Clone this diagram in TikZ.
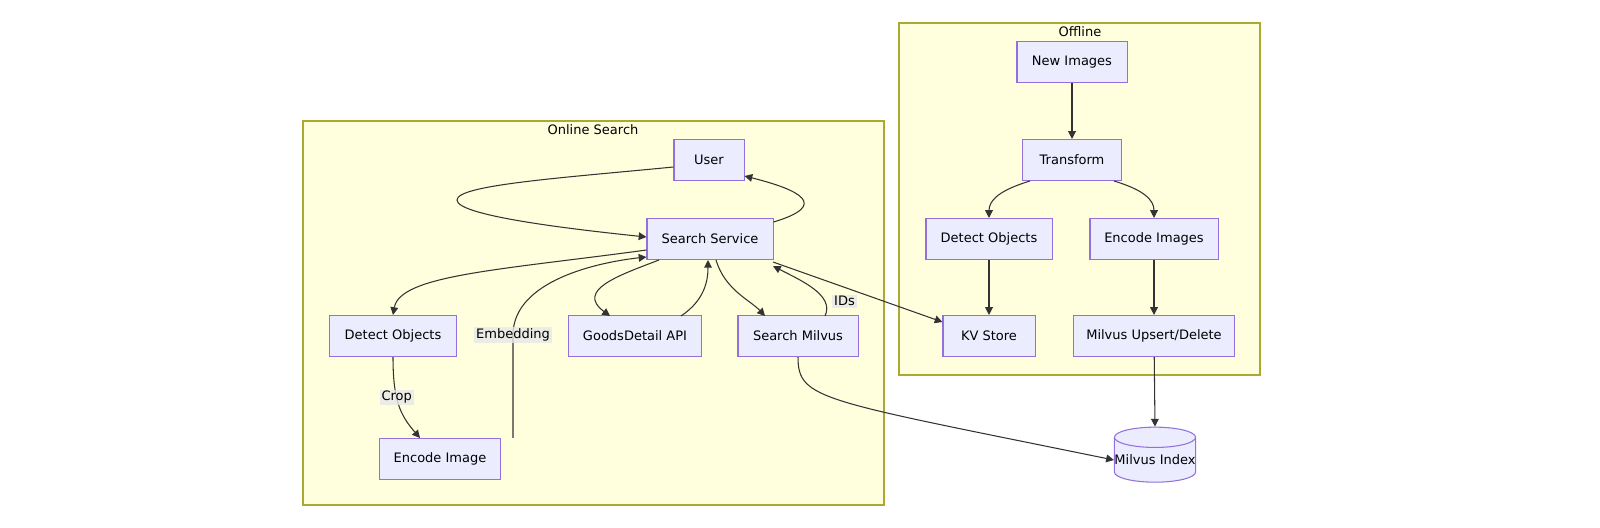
\documentclass[tikz,border=0pt]{standalone}
\usepackage{fontspec}
\setmainfont{DejaVu Sans}
\usetikzlibrary{shapes.geometric,arrows.meta}
\definecolor{boxfill}{HTML}{ECECFF}
\definecolor{boxline}{HTML}{9370DB}
\definecolor{clfill}{HTML}{FFFFDE}
\definecolor{clline}{HTML}{AAAA33}
\definecolor{lblfill}{HTML}{E8E8E8}
\tikzset{
  box/.style={draw=boxline, fill=boxfill, line width=0.3pt, minimum height=0.41cm, font=\fontsize{3.7}{4.4}\selectfont, inner sep=0pt},
  cluster/.style={draw=clline, fill=clfill, line width=0.3pt},
  lbl/.style={fill=lblfill, fill opacity=0.8, text opacity=1, font=\fontsize{3.7}{4.4}\selectfont, inner sep=0.5pt},
  edge/.style={draw=black!80, line width=0.3pt, -{Triangle[length=2.2pt,width=2.2pt]}}
}
\begin{document}
\begin{tikzpicture}[x=0.01cm, y=-0.01cm]
\useasboundingbox (0,0) rectangle (1600,527);
% clusters
\draw[cluster] (303,121) rectangle (884,505);
\node[font=\fontsize{3.7}{4.4}\selectfont] (online) at (593,130) {Online Search};
\draw[cluster] (899,23) rectangle (1260,375);
\node[font=\fontsize{3.7}{4.4}\selectfont] (offline) at (1080,32) {Offline};

% online nodes
\node[box, minimum width=0.70cm] (user) at (709,160) {User};
\node[box, minimum width=1.26cm] (service) at (710,239) {Search Service};
\node[box, minimum width=1.27cm] (detect) at (393,336) {Detect Objects};
\node[box, minimum width=1.20cm] (encode) at (440,459) {Encode Image};
\node[box, minimum width=1.32cm] (goods) at (635,336) {GoodsDetail API};
\node[box, minimum width=1.20cm] (smilvus) at (798,336) {Search Milvus};

% offline nodes
\node[box, minimum width=1.10cm] (newimg) at (1072,62) {New Images};
\node[box, minimum width=0.99cm] (transform) at (1072,160) {Transform};
\node[box, minimum width=1.26cm] (detect2) at (989,239) {Detect Objects};
\node[box, minimum width=1.28cm] (encode2) at (1154,239) {Encode Images};
\node[box, minimum width=0.92cm] (kv) at (989,336) {KV Store};
\node[box, minimum width=1.61cm] (upsert) at (1154,336) {Milvus Upsert/Delete};
\node[draw=boxline, fill=boxfill, line width=0.3pt, cylinder, shape border rotate=90, aspect=0.25,
  minimum width=0.79cm, minimum height=0.55cm, inner sep=0pt,
  font=\fontsize{3.7}{4.4}\selectfont] (index) at (1155,460) {Milvus Index};

% anchor points on the boxes
\coordinate (c1) at (user.west |- 0,167);
\coordinate (c2) at (service.west |- 0,237);
\coordinate (c3) at (service.east |- 0,222);
\coordinate (c4) at (user.east |- 0,176);
\coordinate (c5) at (encode.north -| 420,0);
\coordinate (c6) at (encode.north -| 513,0);
\coordinate (c7) at (service.west |- 0,257);

% online edges
\draw[edge] (c1) .. controls (560,178) and (457,185) .. (457,200)
  .. controls (457,215) and (560,228) .. (c2);
\draw[edge] (c3) .. controls (830,205) and (800,190) .. (c4);
\draw[edge] (service.west |- 0,250) .. controls (500,270) and (400,275) .. (detect.north);
\draw[edge] (detect.south) .. controls (393,400) and (400,415) .. node[lbl, pos=0.4] {Crop} (c5);
\draw[edge] (c6) .. controls (513,400) and (513,360) .. (513,335)
  node[lbl] {Embedding} .. controls (513,280) and (600,262) .. (c7);
\draw[edge] (659,260) .. controls (620,275) and (575,290) .. (610,316);
\draw[edge] (681,316) .. controls (705,300) and (708,280) .. (708,260);
\draw[edge] (716,260) .. controls (725,290) and (750,300) .. (765,316);
\draw[edge] (825,316) .. controls (835,295) and (800,280) .. node[lbl, pos=0.25, right=2pt] {IDs} (773,266);
\draw[edge] (773,262) -- (kv.north west |- 0,322);
\draw[edge] (smilvus.south) .. controls (798,400) and (820,400) .. (index.west);

% offline edges
\draw[edge] (newimg) -- (transform);
\draw[edge] (1030,181) .. controls (1000,190) and (989,200) .. (detect2.north);
\draw[edge] (1114,181) .. controls (1144,190) and (1154,200) .. (encode2.north);
\draw[edge] (detect2) -- (kv);
\draw[edge] (encode2) -- (upsert);
\draw[edge] (upsert) -- (index.north);
\end{tikzpicture}
\end{document}
